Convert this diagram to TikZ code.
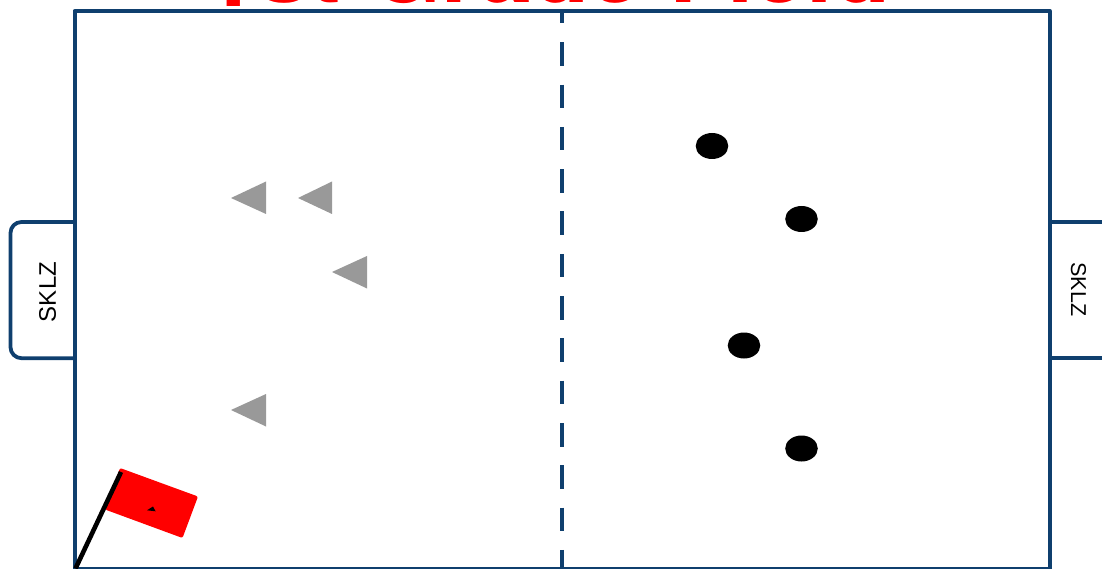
\documentclass[tikz,border=0pt]{standalone}
\usepackage{fontspec}
\setmainfont{Liberation Sans}
\newfontfamily\titlefont{TeX Gyre Heros}
\definecolor{fieldblue}{HTML}{0F3F6E}
\definecolor{conegray}{HTML}{999999}
\begin{document}
\begin{tikzpicture}[x=1pt,y=-1pt,
  fieldline/.style={draw=fieldblue,line width=4pt},
  goalline/.style={draw=fieldblue,line width=3.8pt},
  midline/.style={draw=fieldblue,line width=4pt,dash pattern=on 23.5pt off 18.8pt,dash phase=11pt},
  cone/.style={fill=conegray},
  player/.style={fill=black},
  goaltext/.style={font=\fontsize{24}{24}\selectfont,inner sep=0pt},
  title/.style={text=red,font=\fontsize{95}{95}\titlefont\bfseries,inner sep=0pt,anchor=base west}]
\useasboundingbox (0,0) rectangle (1102,569);
\clip (0,0) rectangle (1102,569);
\node[title] (titletext) at (204,3) {\raisebox{-4pt}{1}st Grade Field};
% goals
\draw[goalline,rounded corners=11pt] (74.5,222) -- (10.5,222) -- (10.5,358.2) -- (74.5,358.2);
\draw[goalline] (1049.7,222) -- (1110,222) (1049.7,358.2) -- (1110,358.2);
\node[goaltext,rotate=90] (goalL) at (47.5,292) {SKLZ};
\node[goaltext,rotate=-90,font=\fontsize{21.5}{21.5}\selectfont] (goalR) at (1078.5,289.5) {SKLZ};
% field
\draw[fieldline,line join=round] (74.6,11) rectangle (1049.7,568.5);
\draw[midline] (562,11) -- (562,568.5);
% cones
\fill[cone] (231,198) -- (266,181.5) -- (266,214) -- cycle;
\fill[cone] (298,198) -- (332,181.5) -- (332,214) -- cycle;
\fill[cone] (332,272) -- (367,256) -- (367,288.5) -- cycle;
\fill[cone] (231,410) -- (266,394) -- (266,426.5) -- cycle;
% players
\fill[player] (712,146) ellipse [x radius=16.3,y radius=13];
\fill[player] (801.5,219) ellipse [x radius=16.3,y radius=13];
\fill[player] (744,345.5) ellipse [x radius=16.3,y radius=13];
\fill[player] (801.5,448.5) ellipse [x radius=16.3,y radius=13];
% flag
\fill[red,rounded corners=2pt] (120,468) -- (198,496.5) -- (182.5,538) -- (105,509.5) -- cycle;
\fill[black] (147,510.3) -- (153,506.5) -- (155.6,511.3) -- cycle;
\draw[black,line width=4.6pt] (75.5,568.5) -- (121,472);
\end{tikzpicture}
\end{document}
